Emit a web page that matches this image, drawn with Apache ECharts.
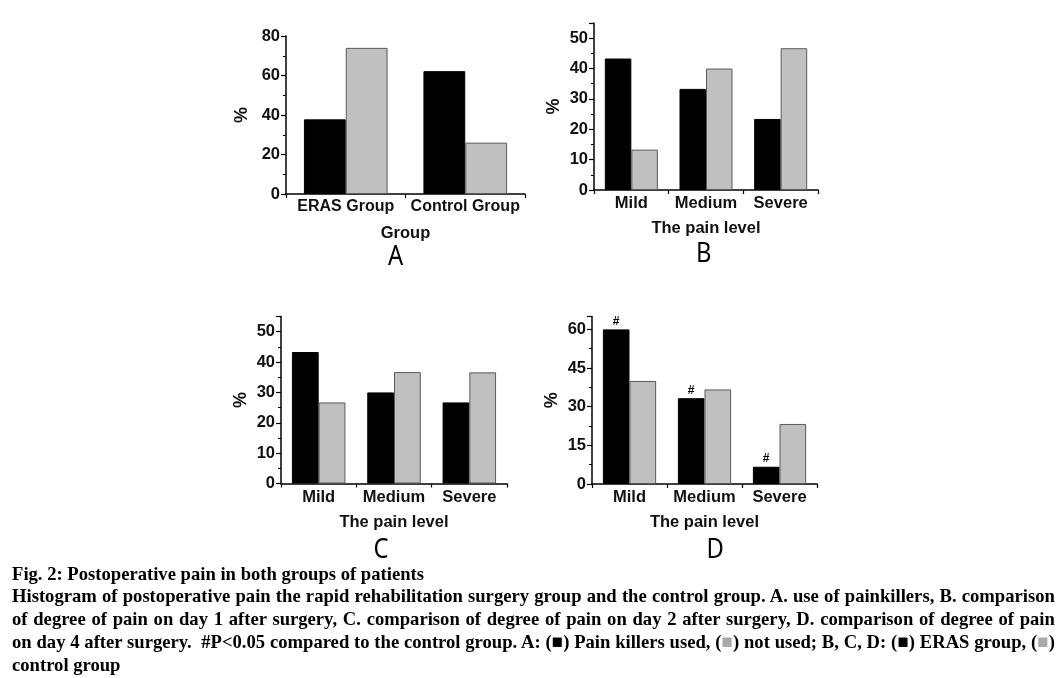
<!DOCTYPE html>
<html><head><meta charset="utf-8">
<script src="https://cdn.jsdelivr.net/npm/echarts@6/dist/echarts.min.js"></script>
<style>
html,body{margin:0;padding:0;background:#fff;}
#chart{position:absolute;left:0;top:0;width:1062px;height:678px;}
#cap{position:absolute;left:12px;top:562.5px;width:1092px;transform:scaleX(0.955);transform-origin:0 0;font-family:"Liberation Serif","Times New Roman",serif;font-weight:bold;font-size:19.5px;line-height:22.8px;color:#000;}
#cap div{white-space:nowrap;}
#cap div.j{text-align:justify;text-align-last:justify;}
.sq{color:#000;}
.sqg{color:#a8a8a8;}
</style></head>
<body>
<div id="chart"></div>
<div id="cap">
<div>Fig. 2: Postoperative pain in both groups of patients</div>
<div class="j">Histogram of postoperative pain the rapid rehabilitation surgery group and the control group. A. use of painkillers, B. comparison</div>
<div class="j">of degree of pain on day 1 after surgery, C. comparison of degree of pain on day 2 after surgery, D. comparison of degree of pain</div>
<div class="j">on day 4 after surgery.&nbsp; #P&lt;0.05 compared to the control group. A: (<span class="sq">■</span>) Pain killers used, (<span class="sqg">■</span>) not used; B, C, D: (<span class="sq">■</span>) ERAS group, (<span class="sqg">■</span>)</div>
<div>control group</div>
</div>
<script>
// ---- data ----
const groupCats = ['ERAS Group', 'Control Group'];
const painCats = ['Mild', 'Medium', 'Severe'];
const aUsed = [37.8, 62.2];
const aNotUsed = [74.0, 26.0];
const bEras = [43.3, 33.3, 23.4];
const bControl = [13.3, 40.0, 46.7];
const cEras = [43.3, 30.0, 26.7];
const cControl = [26.7, 36.7, 36.6];
const dEras = [60.0, 33.3, 6.7];
const dControl = [40.0, 36.7, 23.3];
const dMarks = ['#', '#', '#'];
const panelLetters = ['A', 'B', 'C', 'D'];
const xNames = ['Group', 'The pain level', 'The pain level', 'The pain level'];

const FONT = '"Liberation Sans", Arial, sans-serif';
const chart = echarts.init(document.getElementById('chart'));

const grids = [
  {left: 286, top: 36, width: 239, height: 158},
  {left: 594, top: 23, width: 224, height: 167},
  {left: 281, top: 316.5, width: 226, height: 167},
  {left: 592, top: 316.5, width: 225, height: 167.5}
];
const yCfg = [
  {max: 80, interval: 20, gap: 35},
  {max: 55, interval: 10, gap: 31},
  {max: 55, interval: 10, gap: 31},
  {max: 65, interval: 15, gap: 31}
];
const cats = [groupCats, painCats, painCats, painCats];

const xAxes = cats.map((c, i) => ({
  type: 'category', gridIndex: i, data: c,
  name: xNames[i], nameLocation: 'middle', nameGap: i === 0 ? 31 : 30,
  nameTextStyle: {fontFamily: FONT, fontWeight: 'bold', fontSize: 16.5, color: '#111'},
  axisLine: {lineStyle: {color: '#000', width: 1.5}},
  axisTick: {show: true, length: 4, lineStyle: {color: '#000', width: 1.2}},
  axisLabel: {fontFamily: FONT, fontWeight: 'bold', fontSize: i === 0 ? 16 : 16.5, color: '#111', margin: 5, interval: 0}
}));

const yAxes = yCfg.map((y, i) => ({
  type: 'value', gridIndex: i, min: 0, max: y.max, interval: y.interval,
  name: '%', nameLocation: 'middle', nameRotate: 90, nameGap: y.gap,
  nameTextStyle: {fontFamily: FONT, fontWeight: 'bold', fontSize: 18, color: '#111'},
  axisLine: {show: true, lineStyle: {color: '#000', width: 1.5}},
  axisTick: {show: true, length: 5, lineStyle: {color: '#000', width: 1.2}},
  minorTick: {show: true, splitNumber: 2, length: 3, lineStyle: {color: '#000', width: 1}},
  splitLine: {show: false},
  axisLabel: {fontFamily: FONT, fontWeight: 'bold', fontSize: 16.5, color: '#111', margin: 6, showMaxLabel: y.max % y.interval === 0}
}));

const blackStyle = {color: '#000', borderColor: '#000', borderWidth: 1};
const grayStyle = {color: '#c0c0c0', borderColor: '#5a5a5a', borderWidth: 1};
function bar(i, data, style, extra) {
  return Object.assign({
    type: 'bar', xAxisIndex: i, yAxisIndex: i, data: data,
    barGap: '0%', barCategoryGap: i === 0 ? '30%' : '29%',
    itemStyle: style, silent: true, animation: false
  }, extra || {});
}
const series = [
  bar(0, aUsed, blackStyle), bar(0, aNotUsed, grayStyle),
  bar(1, bEras, blackStyle), bar(1, bControl, grayStyle),
  bar(2, cEras, blackStyle), bar(2, cControl, grayStyle),
  bar(3, dEras, blackStyle, {label: {show: true, position: 'top', distance: 2,
    formatter: p => dMarks[p.dataIndex], fontFamily: FONT, fontWeight: 'bold', fontSize: 12, color: '#000'}}),
  bar(3, dControl, grayStyle)
];

const letterPos = [[395.5, 257], [703.8, 254.5], [381, 550], [715.3, 550]];
const graphic = panelLetters.map((t, i) => ({
  type: 'text', x: letterPos[i][0], y: letterPos[i][1], scaleX: 0.85,
  style: {x: 0, y: 0, text: t, align: 'center', verticalAlign: 'middle',
    fontFamily: '"Noto Sans", "Open Sans", sans-serif', fontSize: 28, fill: '#000'}
}));

chart.setOption({
  animation: false,
  grid: grids,
  xAxis: xAxes,
  yAxis: yAxes,
  series: series,
  graphic: graphic
});
</script>
</body></html>
